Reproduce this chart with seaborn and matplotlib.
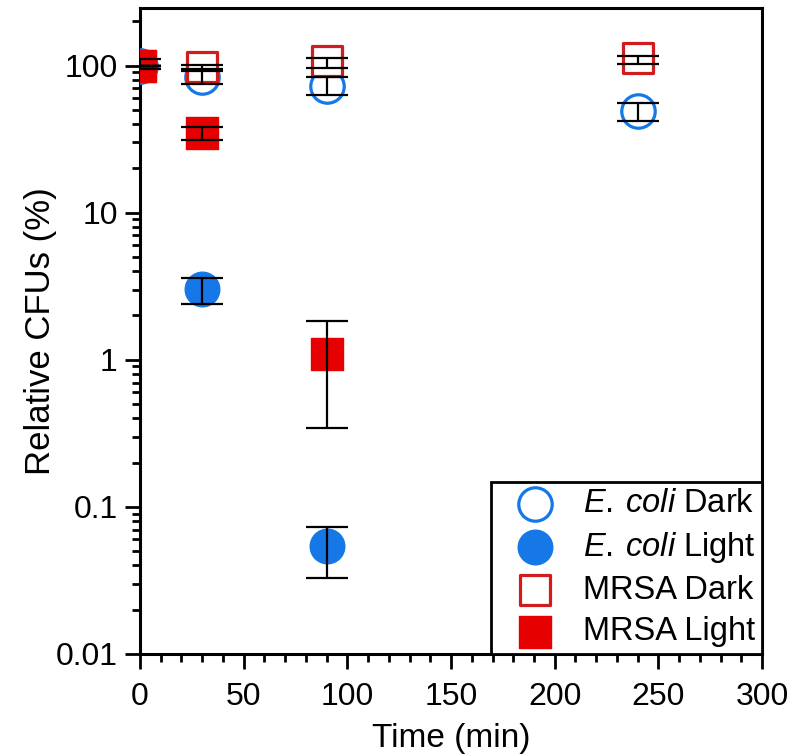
import numpy as np
import pandas as pd
import matplotlib
matplotlib.use('Agg')
import matplotlib.pyplot as plt
import matplotlib.ticker as mticker
import seaborn as sns

# values (relative CFUs, %)
time_ecoli_dark = [0, 30, 90, 240]
ecoli_dark = [100, 83, 73, 49]
ecoli_dark_lo = [100, 75, 63, 42]
ecoli_dark_hi = [100, 92, 83, 56]

time_ecoli_light = [0, 30, 90]
ecoli_light = [100, 3.05, 0.054]
ecoli_light_lo = [100, 2.4, 0.033]
ecoli_light_hi = [100, 3.6, 0.073]

time_mrsa_dark = [0, 30, 90, 240]
mrsa_dark = [100, 98, 108, 112]
mrsa_dark_lo = [100, 95, 97, 103]
mrsa_dark_hi = [100, 101, 113, 117]

time_mrsa_light = [0, 30, 90]
mrsa_light = [100, 35, 1.1]
mrsa_light_lo = [95, 31, 0.344]
mrsa_light_hi = [110, 38.5, 1.82]

y_ticks = [0.01, 0.1, 1, 10, 100]

sns.set_theme(style='ticks')
plt.rcParams['font.family'] = ['Liberation Sans', 'DejaVu Sans']
plt.rcParams['mathtext.fontset'] = 'custom'
plt.rcParams['mathtext.rm'] = 'Liberation Sans'
plt.rcParams['mathtext.it'] = 'Liberation Sans:italic'
plt.rcParams['text.color'] = 'black'
plt.rcParams['axes.labelcolor'] = 'black'
plt.rcParams['xtick.color'] = 'black'
plt.rcParams['ytick.color'] = 'black'

blue = '#1677e6'
red = '#e60000'
dark_red = '#d01c1c'

series = [
    (r'$\it{E.\:coli}$ Dark', time_ecoli_dark, ecoli_dark, ecoli_dark_lo, ecoli_dark_hi, 'o', 'white', blue, 580),
    (r'$\it{E.\:coli}$ Light', time_ecoli_light, ecoli_light, ecoli_light_lo, ecoli_light_hi, 'o', blue, blue, 620),
    ('MRSA Dark', time_mrsa_dark, mrsa_dark, mrsa_dark_lo, mrsa_dark_hi, 's', 'white', dark_red, 480),
    ('MRSA Light', time_mrsa_light, mrsa_light, mrsa_light_lo, mrsa_light_hi, 's', red, red, 500),
]

fig = plt.figure(figsize=(8.02, 7.56), dpi=100)
ax = fig.add_axes([0.1746, 0.135, 0.7756, 0.854])

for label, t, v, lo, hi, mk, fc, ec, size in series:
    df = pd.DataFrame({'t': t, 'v': v})
    lw = 2.3 if fc == 'white' else 1
    sns.scatterplot(data=df, x='t', y='v', marker=mk, s=size, facecolor=fc,
                    edgecolor=ec, linewidth=lw, label=label, ax=ax, zorder=3)

for label, t, v, lo, hi, mk, fc, ec, size in series:
    v = np.array(v)
    yerr = [v - np.array(lo), np.array(hi) - v]
    ax.errorbar(t, v, yerr=yerr, fmt='none', ecolor='black', elinewidth=1.6,
                capsize=15, capthick=1.6, zorder=4)

ax.set_yscale('log')
ax.set_ylim(0.01, 245)
ax.set_xlim(0, 300)
ax.set_yticks(y_ticks)
ax.yaxis.set_major_formatter(mticker.FuncFormatter(lambda x, p: '{:g}'.format(x)))
ax.yaxis.set_minor_locator(mticker.LogLocator(base=10, subs=np.arange(2, 10)))
ax.yaxis.set_minor_formatter(mticker.NullFormatter())
ax.xaxis.set_major_locator(mticker.MultipleLocator(50))
ax.xaxis.set_minor_locator(mticker.MultipleLocator(10))

for s in ax.spines.values():
    s.set_linewidth(2.2)
    s.set_color('black')
ax.tick_params(which='major', length=11, width=2, labelsize=23)
ax.tick_params(axis='x', which='major', pad=9)
ax.tick_params(axis='y', which='major', pad=5)
ax.tick_params(which='minor', length=6, width=2)

ax.set_xlabel('Time (min)', fontsize=24, labelpad=8)
ax.set_ylabel('Relative CFUs (%)', fontsize=25, labelpad=-1)

leg = ax.legend(loc='lower right', borderaxespad=0, fontsize=23.5, frameon=True,
                fancybox=False, framealpha=1, edgecolor='black',
                labelspacing=0.32, handletextpad=0.3, borderpad=0.2, handlelength=2.3)
leg.get_frame().set_linewidth(2)

fig.savefig('out.png', dpi=100)
